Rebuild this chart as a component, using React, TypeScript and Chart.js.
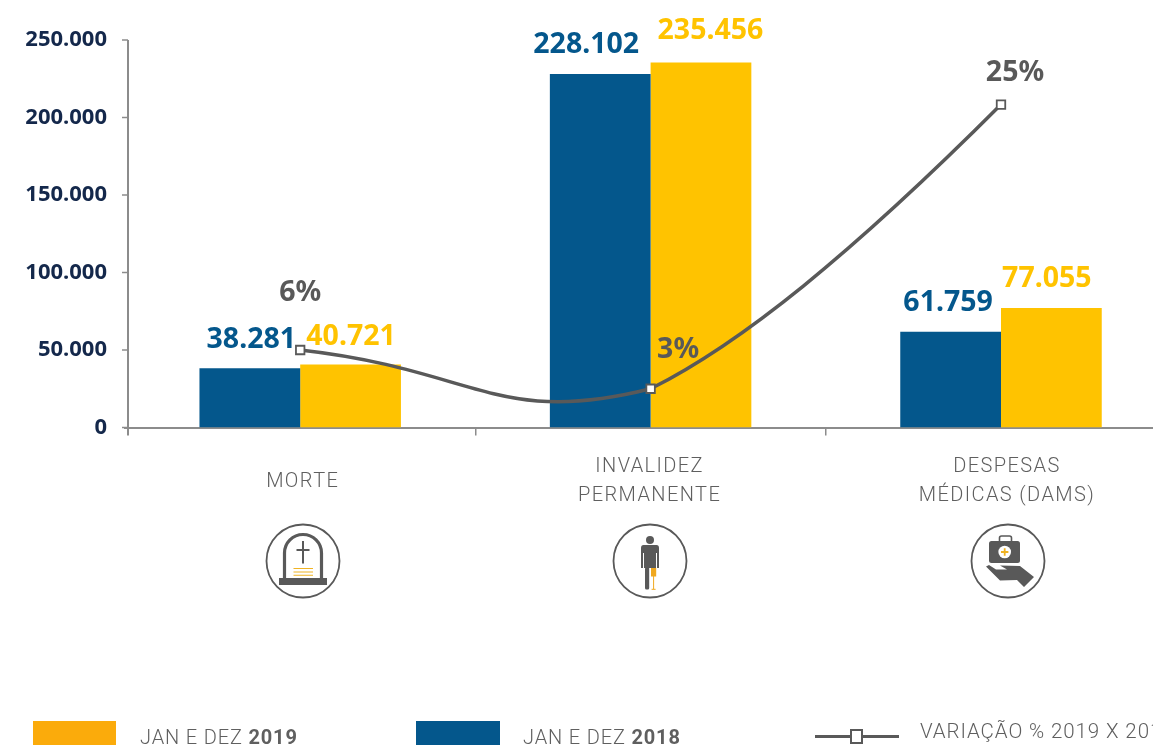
import React, { useEffect, useRef } from "react";
import { Chart, registerables } from "chart.js";

Chart.register(...registerables);

const categories = ["MORTE", "INVALIDEZ|PERMANENTE", "DESPESAS|MÉDICAS (DAMS)"];
const values2018 = [38281, 228102, 61759];
const values2019 = [40721, 235456, 77055];
const variation = [6, 3, 25];

const BLUE = "#04578c";
const YELLOW = "#ffc300";
const GREY = "#595959";
const NAVY = "#14284b";
const AXIS = "#8c8c8c";

const fmt = (v: number) => String(v).replace(/\B(?=(\d{3})+$)/g, ".");

const labelOffsets = [
  [[1.5, -28], [-14, -29], [-2.5, -29]],
  [[0.5, -28], [9.5, -32], [-4.5, -29]],
  [[0, -57], [27.5, -39], [14, -32]],
];
const categoryDx = [2.5, -1, 6];
const AXIS_SHIFT = 3;

const curvePlugin = {
  id: "curveShape",
  beforeDatasetDraw(chart: any, args: any) {
    if (args.index !== 2) return;
    const line = args.meta.dataset;
    line.updateControlPoints(chart.chartArea, "x");
    const [, mid, last] = args.meta.data;
    // the upper segment of the reference runs almost straight into its last point
    mid.cp2x = mid.x + 90;
    mid.cp2y = mid.y - 45;
    last.cp1x = last.x - 150;
    last.cp1y = last.y + 150;
  },
};

const labelsPlugin = {
  id: "customLabels",
  afterDraw(chart: any) {
    const ctx = chart.ctx;
    ctx.save();
    const ys = chart.scales.y;
    const ax = chart.chartArea.left + AXIS_SHIFT;
    ctx.strokeStyle = AXIS;
    ctx.lineWidth = 2;
    ctx.beginPath();
    ctx.moveTo(ax, ys.top);
    ctx.lineTo(ax, ys.bottom + 8);
    ctx.stroke();
    ctx.lineWidth = 1.5;
    ys.ticks.forEach((t: any) => {
      const y = ys.getPixelForValue(t.value);
      ctx.beginPath();
      ctx.moveTo(ax - 6, y);
      ctx.lineTo(ax, y);
      ctx.stroke();
    });

    ctx.textAlign = "center";
    ctx.textBaseline = "middle";
    ctx.font = "700 28.5px 'Noto Sans'";
    [values2018, values2019, variation].forEach((arr, d) => {
      ctx.fillStyle = [BLUE, YELLOW, GREY][d];
      const meta = chart.getDatasetMeta(d);
      arr.forEach((v, i) => {
        const el = meta.data[i];
        const [dx, dy] = labelOffsets[d][i];
        ctx.fillText(d === 2 ? v + "%" : fmt(v), el.x + dx, el.y + dy);
      });
    });
    const xs = chart.scales.x;
    ctx.font = "300 20px Roboto";
    ctx.fillStyle = "#5f5f5f";
    (ctx as any).letterSpacing = "1.4px";
    categories.forEach((c, i) => {
      const lines = c.split("|");
      const x = xs.getPixelForTick(i) + categoryDx[i];
      const y0 = xs.top + (lines.length === 1 ? 54 : 39.5);
      lines.forEach((l, k) => ctx.fillText(l, x, y0 + k * 29));
    });
    ctx.restore();
  },
};

const ring = { fill: "none", stroke: GREY, strokeWidth: 1.8 };

function Icon({ cx, cy, children }: { cx: number; cy: number; children: React.ReactNode }) {
  return (
    <svg width={80} height={80} viewBox="-40 -40 80 80" style={{ position: "absolute", left: cx - 40, top: cy - 40 }}>
      <circle r={36.5} {...ring} />
      {children}
    </svg>
  );
}

const legendText: React.CSSProperties = {
  position: "absolute",
  font: "300 20px Roboto",
  letterSpacing: "0.85px",
  color: "#5f5f5f",
  whiteSpace: "nowrap",
};

export default function App() {
  const ref = useRef<HTMLCanvasElement>(null);
  useEffect(() => {
    const c = new Chart(ref.current!, {
      data: {
        labels: categories,
        datasets: [
          { type: "bar", label: "JAN E DEZ 2018", data: values2018, backgroundColor: BLUE, categoryPercentage: 0.575, barPercentage: 1, yAxisID: "y", order: 2 },
          { type: "bar", label: "JAN E DEZ 2019", data: values2019, backgroundColor: YELLOW, categoryPercentage: 0.575, barPercentage: 1, yAxisID: "y", order: 2 },
          { type: "line", label: "VARIAÇÃO % 2019 X 2018", data: variation, yAxisID: "y1", borderColor: GREY, borderWidth: 3.5, tension: 0.5,
            pointStyle: "rect", pointRadius: 6, pointBackgroundColor: "#ffffff", pointBorderColor: GREY, pointBorderWidth: 1.8, order: 1 },
        ],
      } as any,
      options: {
        responsive: false,
        animation: false,
        layout: { padding: { top: 40, right: 1.4, left: 0, bottom: 0 } },
        plugins: { legend: { display: false }, tooltip: { enabled: false } },
        scales: {
          x: {
            offset: true,
            afterFit: (s: any) => { s.height = 317.5; },
            grid: {
              offset: true, drawOnChartArea: false, tickLength: 8, lineWidth: 1.5,
              color: (ctx: any) => (ctx.index === 0 ? "rgba(0,0,0,0)" : AXIS),
            },
            border: { color: AXIS, width: 2 },
            ticks: { display: false },
          },
          y: {
            min: 0, max: 250000,
            afterFit: (s: any) => { s.width = 125; },
            grid: { display: false, tickLength: 6 },
            border: { display: false },
            ticks: { stepSize: 50000, padding: 12, color: NAVY, font: { family: "'Noto Sans'", size: 22, weight: 700 },
              callback: (v: any) => fmt(Number(v)) },
          },
          y1: { min: 0, max: 30, display: false },
        },
      },
      plugins: [curvePlugin, labelsPlugin],
    } as any);
    return () => c.destroy();
  }, []);

  return (
    <div style={{ position: "fixed", left: 0, top: 0, width: 1153, height: 745, overflow: "hidden", background: "#fff" }}>
      <canvas ref={ref} width={1184} height={745} style={{ position: "absolute", left: 0, top: 0, width: 1184, height: 745 }} />

      <Icon cx={302.7} cy={560.5}>
        <rect x={-24} y={17} width={48} height={7} fill={GREY} />
        <path d="M-18.5 17 V-8 A18.5 18.5 0 0 1 18.5 -8 V17" fill="none" stroke={GREY} strokeWidth={3.2} />
        <path d="M0 -20 V2.5 M-6.5 -11 H6.5" fill="none" stroke={GREY} strokeWidth={2} />
        <path d="M-9.5 7.5 H10 M-9.5 11 H10 M-9.5 14.3 H10" fill="none" stroke="#f0b323" strokeWidth={1.1} />
      </Icon>
      <Icon cx={650} cy={560.5}>
        <circle cx={0} cy={-21} r={4} fill={GREY} />
        <path d="M-6.5 -16 H6.5 Q9 -16 9 -13 V7 H7 V-8 H6 V7 H-6 V-8 H-7 V7 H-9 V-13 Q-9 -16 -6.5 -16 Z" fill={GREY} />
        <rect x={-5} y={6} width={4.2} height={22.5} rx={1.5} fill={GREY} />
        <rect x={1} y={7} width={5.2} height={8.5} fill="#f0a81e" />
        <path d="M3.6 15 V28 M1.6 28.3 H5.6" stroke="#f0a81e" strokeWidth={1} fill="none" />
      </Icon>
      <Icon cx={1008} cy={560.5}>
        <rect x={-19} y={-20} width={31} height={22} rx={2.5} fill={GREY} />
        <path d="M-8.5 -20 V-23 Q-8.5 -25 -6.5 -25 H1.5 Q3.5 -25 3.5 -23 V-20" fill="none" stroke={GREY} strokeWidth={1.6} />
        <circle cx={-3.3} cy={-9} r={6.3} fill="#fff" />
        <path d="M-7 -9 H0.4 M-3.3 -12.7 V-5.3" stroke="#f0b323" strokeWidth={1.8} fill="none" />
        <path d="M-22 5.5 L-19 4 L-12 8.5 L-1 8.5 L-8 4.5 L12 5 L26 16 L16 26 L9 19 L-8 19.5 Z" fill={GREY} />
      </Icon>

      <div style={{ position: "absolute", left: 33, top: 721, width: 83, height: 24, background: "#fbab0b" }} />
      <div style={{ ...legendText, left: 140, top: 725 }}>JAN E DEZ <b style={{ fontWeight: 700 }}>2019</b></div>
      <div style={{ position: "absolute", left: 416, top: 721, width: 84, height: 24, background: BLUE }} />
      <div style={{ ...legendText, left: 523, top: 725 }}>JAN E DEZ <b style={{ fontWeight: 700 }}>2018</b></div>
      <div style={{ position: "absolute", left: 815, top: 735, width: 84, height: 2.5, background: GREY }} />
      <div style={{ position: "absolute", left: 850, top: 729, width: 13, height: 15, boxSizing: "border-box", border: `2.5px solid ${GREY}`, background: "#fff" }} />
      <div style={{ ...legendText, left: 920, top: 719, fontSize: 20.5, letterSpacing: "0.9px" }}>VARIAÇÃO % 2019 X 2018</div>
    </div>
  );
}
